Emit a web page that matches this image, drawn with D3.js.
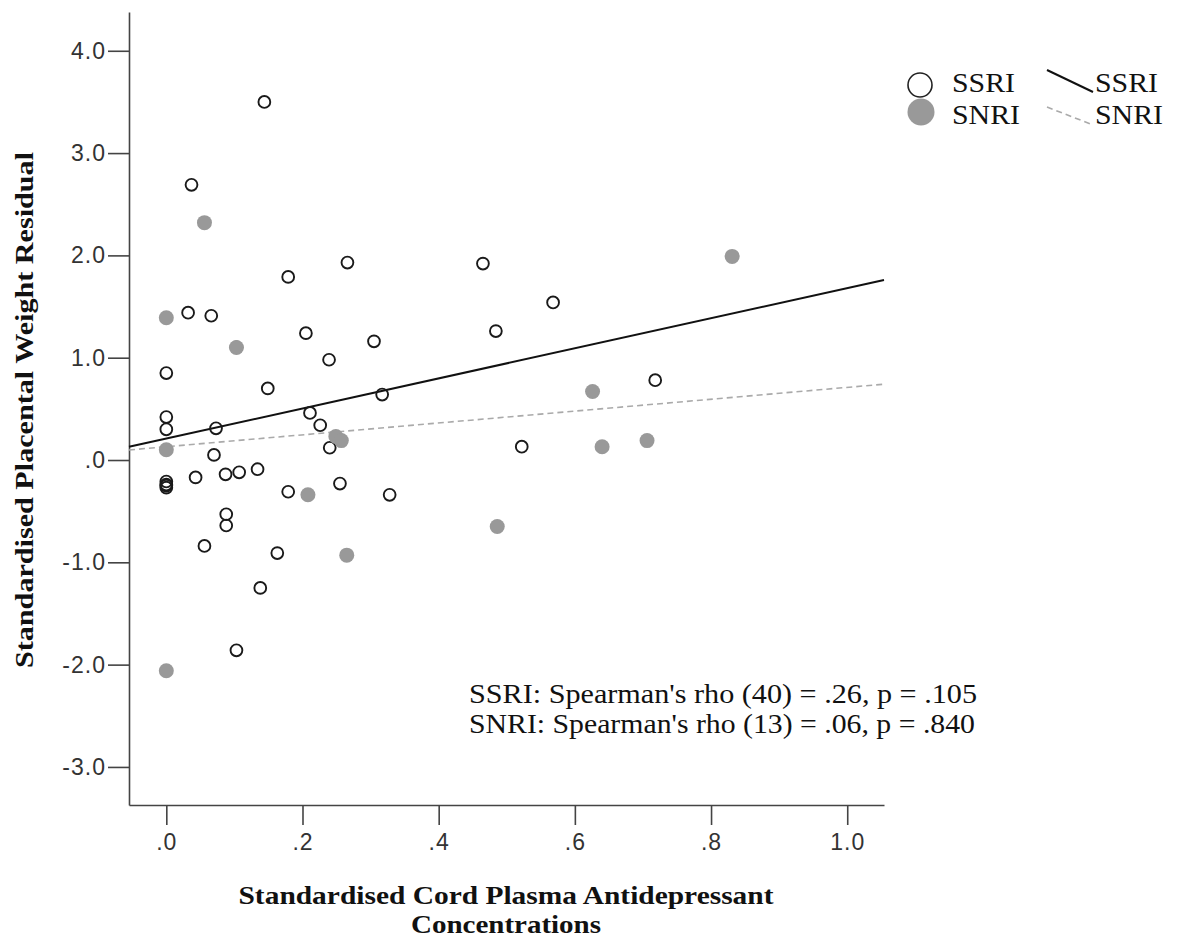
<html>
<head>
<meta charset="utf-8">
<style>
  body { margin:0; background:#fff; }
  .tick text { font-family:"Liberation Sans", Arial, sans-serif; font-size:23px; fill:#333; letter-spacing:1px; }
  .axis path, .axis line { stroke:#444; stroke-width:1.6; }
  .title { font-family:"Liberation Serif", "Times New Roman", serif; font-weight:bold; font-size:26px; fill:#111; }
  .note, .legtext { font-family:"Liberation Serif", "Times New Roman", serif; fill:#111; }
</style>
</head>
<body>
<script src="https://d3js.org/d3.v7.min.js"></script>
<script>
var width = 1180, height = 938;

// SSRI group (open circles): concentration, residual
var ssriX = [0.144, 0.037, 0.179, 0.266, 0.032, 0.066, 0.103, 0.205, 0.305, 0.239,
             0.000, 0.149, 0.317, 0.000, 0.000, 0.073, 0.211, 0.226, 0.240, 0.070,
             0.000, 0.000, 0.000, 0.000, 0.043, 0.087, 0.107, 0.134, 0.179, 0.255,
             0.328, 0.088, 0.088, 0.056, 0.163, 0.138, 0.103, 0.465, 0.568, 0.484,
             0.718, 0.522];
var ssriY = [3.50, 2.69, 1.79, 1.93, 1.44, 1.41, 1.10, 1.24, 1.16, 0.98,
             0.85, 0.70, 0.64, 0.42, 0.30, 0.31, 0.46, 0.34, 0.12, 0.05,
             -0.21, -0.24, -0.25, -0.27, -0.17, -0.14, -0.12, -0.09, -0.31, -0.23,
             -0.34, -0.53, -0.64, -0.84, -0.91, -1.25, -1.86, 1.92, 1.54, 1.26,
             0.78, 0.13];

// SNRI group (grey dots)
var snriX = [0.056, 0.000, 0.103, 0.249, 0.257, 0.000, 0.208, 0.265, 0.000,
             0.831, 0.626, 0.640, 0.706, 0.486];
var snriY = [2.32, 1.39, 1.10, 0.23, 0.19, 0.10, -0.34, -0.93, -2.06,
             1.99, 0.67, 0.13, 0.19, -0.65];

// fit lines (intercept, slope)
var fitNames = ["SSRI", "SNRI"];
var fitIntercept = [0.21, 0.13];
var fitSlope = [1.47, 0.58];

var xTicks = [0, 0.2, 0.4, 0.6, 0.8, 1.0];
var yTicks = [4, 3, 2, 1, 0, -1, -2, -3];

var noteLines = ["SSRI: Spearman's rho (40) = .26, p = .105",
                 "SNRI: Spearman's rho (13) = .06, p = .840"];
var xTitle = ["Standardised Cord Plasma Antidepressant", "Concentrations"];
var yTitle = "Standardised Placental Weight Residual";

var svg = d3.select("body").append("svg")
    .attr("width", width)
    .attr("height", height);

var x = d3.scaleLinear().domain([-0.0548, 1.054]).range([129, 884]);
var y = d3.scaleLinear().domain([-3.372, 4.379]).range([805, 12]);

function fmt(d){
    var s = d.toFixed(1);
    return s.replace(/^0\./, ".");
}

svg.append("g").attr("class", "axis")
    .attr("transform", "translate(0,805)")
    .call(d3.axisBottom(x).tickValues(xTicks).tickFormat(fmt).tickSize(20).tickSizeOuter(0).tickPadding(9));

svg.append("g").attr("class", "axis")
    .attr("transform", "translate(129,0)")
    .call(d3.axisLeft(y).tickValues(yTicks).tickFormat(fmt).tickSize(21).tickSizeOuter(0).tickPadding(2));

// fit lines
var xd = x.domain();
fitNames.forEach(function(n, i){
    svg.append("line")
        .attr("x1", x(xd[0])).attr("y1", y(fitIntercept[i] + fitSlope[i]*xd[0]))
        .attr("x2", x(xd[1])).attr("y2", y(fitIntercept[i] + fitSlope[i]*xd[1]))
        .attr("stroke", i == 0 ? "#111" : "#aaa")
        .attr("stroke-width", i == 0 ? 2 : 1.6)
        .attr("stroke-dasharray", i == 0 ? null : "6,4");
});

// points
svg.selectAll(".ssri").data(d3.range(ssriX.length)).enter().append("circle")
    .attr("class", "ssri")
    .attr("cx", function(i){ return x(ssriX[i]); })
    .attr("cy", function(i){ return y(ssriY[i]); })
    .attr("r", 5.9)
    .attr("fill", "none")
    .attr("stroke", "#1a1a1a")
    .attr("stroke-width", 1.9);

svg.selectAll(".snri").data(d3.range(snriX.length)).enter().append("circle")
    .attr("class", "snri")
    .attr("cx", function(i){ return x(snriX[i]); })
    .attr("cy", function(i){ return y(snriY[i]); })
    .attr("r", 7.5)
    .attr("fill", "#999");

// legend
svg.append("circle").attr("cx", 920).attr("cy", 85).attr("r", 12)
    .attr("fill", "none").attr("stroke", "#222").attr("stroke-width", 1.6);
svg.append("circle").attr("cx", 921).attr("cy", 112).attr("r", 13.5).attr("fill", "#999");
svg.append("line").attr("x1", 1047).attr("y1", 70).attr("x2", 1093).attr("y2", 92)
    .attr("stroke", "#111").attr("stroke-width", 2);
svg.append("line").attr("x1", 1047).attr("y1", 107).attr("x2", 1093).attr("y2", 125)
    .attr("stroke", "#aaa").attr("stroke-width", 1.6).attr("stroke-dasharray", "6,4");
[[952, 92, "SSRI"], [952, 124, "SNRI"], [1095, 92, "SSRI"], [1095, 124, "SNRI"]].forEach(function(t){
    svg.append("text").attr("class", "legtext")
        .attr("x", t[0]).attr("y", t[1])
        .attr("font-size", 27)
        .attr("textLength", t[2] == "SSRI" ? 63 : 68)
        .attr("lengthAdjust", "spacingAndGlyphs")
        .text(t[2]);
});

// correlation note
noteLines.forEach(function(s, i){
    svg.append("text").attr("class", "note")
        .attr("x", 469).attr("y", 703 + i*30)
        .attr("font-size", 28)
        .attr("textLength", i == 0 ? 508 : 506)
        .attr("lengthAdjust", "spacingAndGlyphs")
        .text(s);
});

// axis titles
svg.append("text").attr("class", "title")
    .attr("x", 506).attr("y", 904)
    .attr("text-anchor", "middle")
    .attr("font-size", 23)
    .attr("textLength", 535).attr("lengthAdjust", "spacingAndGlyphs")
    .text(xTitle[0]);
svg.append("text").attr("class", "title")
    .attr("x", 506).attr("y", 933)
    .attr("text-anchor", "middle")
    .attr("font-size", 23)
    .attr("textLength", 190).attr("lengthAdjust", "spacingAndGlyphs")
    .text(xTitle[1]);
svg.append("text").attr("class", "title")
    .attr("transform", "translate(33,410) rotate(-90)")
    .attr("text-anchor", "middle")
    .attr("textLength", 516).attr("lengthAdjust", "spacingAndGlyphs")
    .text(yTitle);
</script>
</body>
</html>
